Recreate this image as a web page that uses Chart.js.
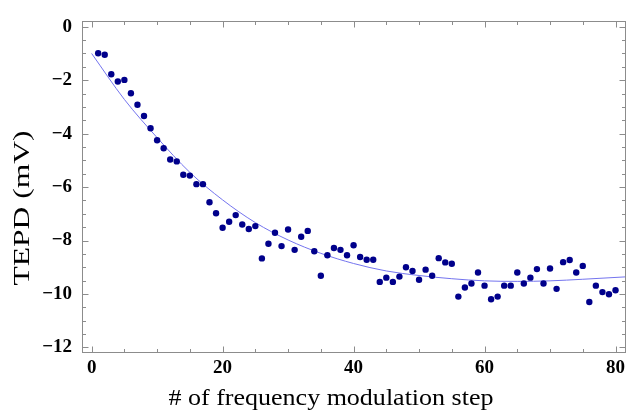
<!DOCTYPE html>
<html>
<head>
<meta charset="utf-8">
<script src="https://cdn.jsdelivr.net/npm/chart.js@4/dist/chart.umd.min.js"></script>
<style>
  html, body { margin: 0; padding: 0; background: #fff; }
  #wrap { width: 630px; height: 415px; position: relative; }
</style>
</head>
<body>
<div id="wrap"><canvas id="c"></canvas></div>
<script>
// ---- data ----
const steps = [1,2,3,4,5,6,7,8,9,10,11,12,13,14,15,16,17,18,19,20,
  21,22,23,24,25,26,27,28,29,30,31,32,33,34,35,36,37,38,39,40,
  41,42,43,44,45,46,47,48,49,50,51,52,53,54,55,56,57,58,59,60,
  61,62,63,64,65,66,67,68,69,70,71,72,73,74,75,76,77,78,79,80];
const tepd = [-0.99,-1.05,-1.78,-2.05,-1.99,-2.49,-2.92,-3.34,-3.80,-4.25,
  -4.55,-4.97,-5.04,-5.54,-5.57,-5.89,-5.89,-6.57,-6.98,-7.52,
  -7.30,-7.05,-7.40,-7.57,-7.46,-8.67,-8.12,-7.71,-8.21,-7.59,
  -8.35,-7.86,-7.64,-8.40,-9.32,-8.55,-8.28,-8.35,-8.55,-8.18,
  -8.62,-8.72,-8.72,-9.55,-9.39,-9.55,-9.35,-9.00,-9.14,-9.47,
  -9.09,-9.32,-8.66,-8.82,-8.87,-10.10,-9.76,-9.61,-9.20,-9.69,
  -10.20,-10.10,-9.69,-9.69,-9.20,-9.61,-9.39,-9.07,-9.61,-9.05,
  -9.81,-8.81,-8.73,-9.20,-8.95,-10.30,-9.69,-9.93,-10.01,-9.86];
const fitX = [0, 5, 10, 15, 20, 25, 30, 35, 40, 45, 50, 55, 60, 65, 70, 75, 81.6];
const fitY = [-1.00,-2.72,-4.15,-5.45,-6.48,-7.33,-7.98,-8.48,-8.86,-9.14,-9.31,-9.43,-9.51,-9.53,-9.51,-9.45,-9.36];
const xTickValues = [0, 20, 40, 60, 80];
const yTickValues = [-12, -10, -8, -6, -4, -2, 0];
const xMinorTicks = [0,5,10,15,20,25,30,35,40,45,50,55,60,65,70,75,80];
const yMinorTicks = [-12,-11.5,-11,-10.5,-10,-9.5,-9,-8.5,-8,-7.5,-7,-6.5,-6,-5.5,-5,-4.5,-4,-3.5,-3,-2.5,-2,-1.5,-1,-0.5,0];
const xTitle = '# of frequency modulation step';
const yTitle = 'TEPD (mV)';

const pointData = steps.map((s, i) => ({ x: s, y: tepd[i] }));
const fitData = fitX.map((v, i) => ({ x: v, y: fitY[i] }));

const fmt = v => (v < 0 ? '\u2212' + Math.abs(v) : String(v));

// draws text stretched along its own direction to a given visual length
function drawStretched(ctx, text, cx, cy, angle, targetLen) {
  ctx.save();
  ctx.translate(cx, cy);
  ctx.rotate(angle);
  const w = ctx.measureText(text).width;
  ctx.scale(targetLen / w, 1);
  ctx.fillText(text, 0, 0);
  ctx.restore();
}

const framePlugin = {
  id: 'frame',
  afterDraw(chart) {
    const ctx = chart.ctx;
    const { left, right, top, bottom } = chart.chartArea;
    const xs = chart.scales.x, ys = chart.scales.y;
    ctx.save();
    ctx.strokeStyle = '#8c8c8c';
    ctx.lineWidth = 1;
    const L = Math.round(left) + 0.5, R = Math.round(right) - 0.5;
    const T = Math.round(top) + 0.5, B = Math.round(bottom) - 0.5;
    ctx.strokeRect(L, T, R - L, B - T);
    ctx.beginPath();
    xMinorTicks.forEach(v => {
      const px = Math.round(xs.getPixelForValue(v)) + 0.5;
      const len = xTickValues.includes(v) ? 6 : 3.5;
      ctx.moveTo(px, B); ctx.lineTo(px, B - len);
      ctx.moveTo(px, T); ctx.lineTo(px, T + len);
    });
    yMinorTicks.forEach(v => {
      const py = Math.round(ys.getPixelForValue(v)) + 0.5;
      const len = yTickValues.includes(v) ? 6 : 3.5;
      ctx.moveTo(L, py); ctx.lineTo(L + len, py);
      ctx.moveTo(R, py); ctx.lineTo(R - len, py);
    });
    ctx.stroke();
    // axis titles
    ctx.fillStyle = '#000';
    ctx.font = '24px "Liberation Serif"';
    ctx.textAlign = 'center';
    ctx.textBaseline = 'middle';
    drawStretched(ctx, xTitle, 331, 399, 0, 325);
    drawStretched(ctx, yTitle, 23, 208, -Math.PI / 2, 155);
    ctx.restore();
  }
};

new Chart(document.getElementById('c'), {
  type: 'scatter',
  data: {
    datasets: [
      {
        label: 'TEPD',
        data: pointData,
        backgroundColor: '#00008b',
        borderColor: '#00008b',
        pointRadius: 3.2,
        pointBorderWidth: 0,
        order: 0
      },
      {
        label: 'fit',
        data: fitData,
        showLine: true,
        borderColor: '#7474ee',
        borderWidth: 1,
        pointRadius: 0,
        cubicInterpolationMode: 'monotone',
        order: 1
      }
    ]
  },
  options: {
    responsive: true,
    maintainAspectRatio: false,
    animation: false,
    devicePixelRatio: 1,
    layout: { padding: { top: 15, right: 1, left: 0, bottom: 0 } },
    plugins: { legend: { display: false }, tooltip: { enabled: false } },
    scales: {
      x: {
        type: 'linear',
        min: -1.47,
        max: 81.6,
        grid: { display: false, drawTicks: false },
        border: { display: false },
        afterBuildTicks: s => { s.ticks = xTickValues.map(v => ({ value: v })); },
        afterFit: s => { s.height = 62; },
        ticks: {
          autoSkip: false,
          maxRotation: 0,
          padding: 4,
          color: '#000',
          font: { family: '"Liberation Serif"', size: 19, weight: 'bold' },
          callback: v => fmt(v)
        }
      },
      y: {
        type: 'linear',
        min: -12.21,
        max: 0.2,
        grid: { display: false, drawTicks: false },
        border: { display: false },
        afterBuildTicks: s => { s.ticks = yTickValues.map(v => ({ value: v })); },
        afterFit: s => { s.width = 82; },
        ticks: {
          autoSkip: false,
          padding: 10,
          color: '#000',
          font: { family: '"Liberation Serif"', size: 19, weight: 'bold' },
          callback: v => fmt(v)
        }
      }
    }
  },
  plugins: [framePlugin]
});
</script>
</body>
</html>
